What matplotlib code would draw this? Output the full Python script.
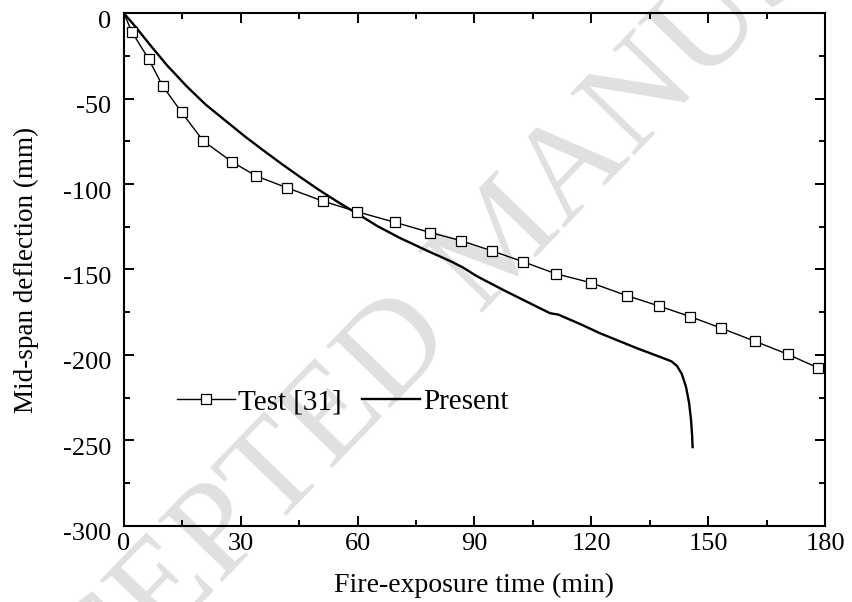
import numpy as np
import matplotlib.pyplot as plt
import matplotlib.transforms as mtransforms
from matplotlib.ticker import MultipleLocator

plt.rcParams['font.family'] = 'Liberation Serif'
plt.rcParams['axes.unicode_minus'] = False

# Test [31] measured points
test_t = [0, 2.0, 6.3, 9.9, 14.8, 20.4, 27.8, 34.0, 41.8, 51.0, 59.9, 69.6, 78.7, 86.5,
          94.6, 102.4, 110.9, 119.8, 129.1, 137.4, 145.4, 153.4, 162.0, 170.4, 178.1]
test_d = [0, -10.8, -26.6, -42.4, -58.0, -74.8, -87.1, -95.3, -102.1, -109.9, -116.2, -122.4,
          -128.4, -133.1, -139.2, -145.4, -152.5, -157.7, -165.3, -171.4, -177.6, -184.4,
          -192.0, -199.6, -207.5]

# Present model
pres_t = [0, 3.0, 6.7, 11.0, 16.0, 21.0, 26.4, 31.0, 35.8, 40.5, 45.2, 50.0, 55.0, 59.9,
          65.0, 70.9, 78.6, 84.0, 87.1, 90.5, 97.4, 104.0, 109.4, 111.5, 117.1, 122.3,
          131.7, 138.0, 140.6, 142.0, 143.2, 144.3, 145.1, 145.6, 145.9, 146.0]
pres_d = [0, -8.0, -18.5, -30.3, -42.5, -53.5, -63.5, -72.0, -80.3, -88.2, -95.8, -103.3,
          -110.6, -117.3, -124.5, -131.6, -139.8, -145.3, -148.9, -153.8, -162.0, -169.5,
          -175.6, -176.4, -181.9, -187.4, -196.1, -201.5, -203.8, -206.5, -211.0, -218.6,
          -228.0, -238.0, -247.9, -254.0]

fig = plt.figure(figsize=(8.52, 6.02), dpi=100)
ax = fig.add_axes([0.1455, 0.1268, 0.8228, 0.8511])
ax.patch.set_alpha(0)
ax.set_zorder(2)

# watermark behind the plot
fig.text(0.593, 0.598, 'ACCEPTED MANUSCRIPT', fontsize=98, color='#e0e0e0',
         rotation=46, ha='center', va='center', rotation_mode='anchor', zorder=0)

ax.plot(test_t, test_d, color='black', lw=1.0, marker='s', ms=7, mfc='white',
        mec='black', mew=0.9, markevery=list(range(1, len(test_t))),
        label='Test [31]', clip_on=False, zorder=3)
ax.plot(pres_t, pres_d, color='black', lw=1.7, label='Present', zorder=2)

ax.set_xlim(0, 180)
ax.set_ylim(-300, 0)
ax.xaxis.set_major_locator(MultipleLocator(30))
ax.xaxis.set_minor_locator(MultipleLocator(15))
ax.yaxis.set_major_locator(MultipleLocator(50))
ax.yaxis.set_minor_locator(MultipleLocator(25))

ax.tick_params(which='both', direction='in', top=True, right=True, width=1.4)
ax.tick_params(which='major', length=7.5, labelsize=19)
ax.tick_params(which='minor', length=4.3)
ax.tick_params(axis='x', pad=5)
ax.tick_params(axis='y', pad=9)
for sp in ax.spines.values():
    sp.set_linewidth(1.5)

ax.set_xlabel('Fire-exposure time (min)', fontsize=20, labelpad=13)
ax.set_ylabel('Mid-span deflection (mm)', fontsize=19.5, labelpad=17)

# y tick labels sit slightly low in the original
off = mtransforms.ScaledTranslation(0, -6 / 100, fig.dpi_scale_trans)
for tk in ax.yaxis.get_major_ticks():
    tk.label1.set_transform(tk.label1.get_transform() + off)

ax.legend(loc='center left', bbox_to_anchor=(0.075, 0.241), ncol=2, frameon=False,
          fontsize=21, handlelength=2.0, handletextpad=0.1, columnspacing=0.7,
          borderaxespad=0, borderpad=0)

fig.savefig('out.png', dpi=100)
